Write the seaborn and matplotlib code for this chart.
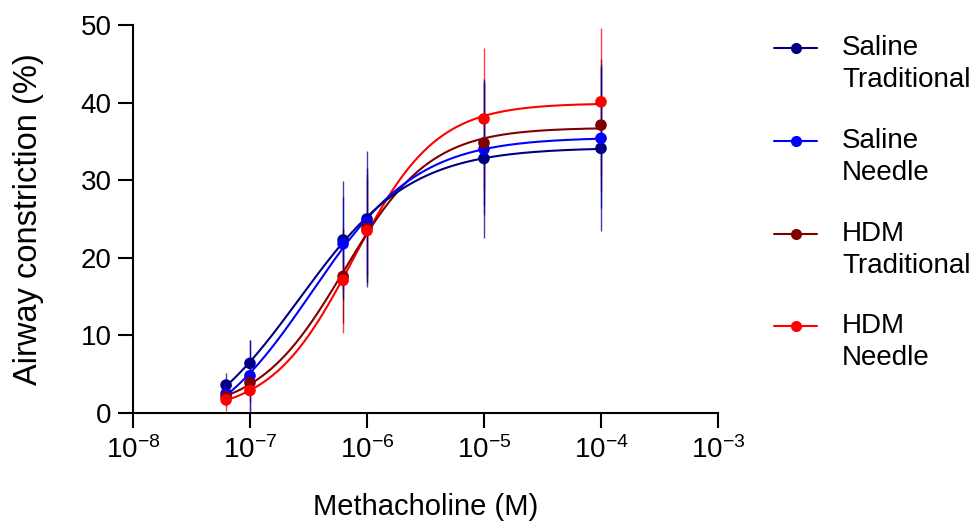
import numpy as np
import pandas as pd
import seaborn as sns
import matplotlib.pyplot as plt
from matplotlib.lines import Line2D

# data
dose = [6.25e-8, 1e-7, 6.25e-7, 1e-6, 1e-5, 1e-4]
groups = ["Saline\nTraditional", "Saline\nNeedle", "HDM\nTraditional", "HDM\nNeedle"]
colors = ["#000080", "#0000ff", "#800000", "#ff0000"]

saline_trad = [3.6, 6.4, 22.3, 25.0, 32.8, 34.1]
saline_trad_err = [1.6, 3.0, 7.6, 8.7, 10.3, 10.7]
saline_needle = [2.5, 4.8, 21.8, 24.6, 34.0, 35.4]
saline_needle_err = [1.5, 4.6, 6.0, 7.0, 8.5, 9.0]
hdm_trad = [2.1, 3.9, 17.6, 23.8, 34.8, 37.1]
hdm_trad_err = [1.2, 2.5, 6.0, 7.0, 8.0, 8.5]
hdm_needle = [1.7, 2.9, 17.1, 23.5, 37.9, 40.1]
hdm_needle_err = [1.5, 2.8, 6.8, 6.5, 9.2, 9.5]

means = [saline_trad, saline_needle, hdm_trad, hdm_needle]
errs = [saline_trad_err, saline_needle_err, hdm_trad_err, hdm_needle_err]


def fit_hill(x, y):
    # 4PL fit: grid over logEC50 / hill, bottom & top by linear least squares
    lx = np.log10(x)
    y = np.asarray(y)
    best = None
    for ec in np.arange(-7.5, -5.0, 0.005):
        for h in np.arange(0.5, 3.0, 0.01):
            f = 1.0 / (1.0 + 10 ** (h * (ec - lx)))
            A = np.column_stack([1 - f, f])
            coef, *_ = np.linalg.lstsq(A, y, rcond=None)
            sse = np.sum((A @ coef - y) ** 2)
            if best is None or sse < best[0]:
                best = (sse, coef[0], coef[1], ec, h)
    return best[1:]


rows = []
curves = []
xs = np.logspace(np.log10(dose[0]), np.log10(dose[-1]), 300)
for g, m, e in zip(groups, means, errs):
    for d, v, s in zip(dose, m, e):
        rows.append({"dose": d, "value": v, "err": s, "group": g})
    bottom, top, ec, h = fit_hill(dose, m)
    fy = bottom + (top - bottom) / (1.0 + 10 ** (h * (ec - np.log10(xs))))
    curves.append(pd.DataFrame({"dose": xs, "value": fy, "group": g}))

df = pd.DataFrame(rows)
fit = pd.concat(curves)

sns.set_style("ticks", rc={"text.color": "black", "axes.labelcolor": "black",
                           "xtick.color": "black", "ytick.color": "black",
                           "axes.edgecolor": "black"})
plt.rcParams["font.family"] = ["Liberation Sans", "DejaVu Sans"]
plt.rcParams["mathtext.fontset"] = "custom"
plt.rcParams["mathtext.rm"] = "Liberation Sans"
plt.rcParams["mathtext.it"] = "Liberation Sans:italic"
plt.rcParams["mathtext.bf"] = "Liberation Sans:bold"
plt.rcParams["mathtext.default"] = "regular"

fig = plt.figure(figsize=(9.77, 5.24), dpi=100)
ax = fig.add_axes([0.1361, 0.2118, 0.5988, 0.7405])

pal = dict(zip(groups, colors))
order = groups[::-1]

for g in order:
    sub = df[df.group == g]
    ax.errorbar(sub.dose, sub.value, yerr=sub.err, fmt="none",
                ecolor=pal[g], elinewidth=1.0, alpha=0.75, zorder=2)

sns.lineplot(data=fit, x="dose", y="value", hue="group", hue_order=order,
             palette=pal, linewidth=1.5, legend=False, ax=ax, zorder=3)
sns.scatterplot(data=df, x="dose", y="value", hue="group", hue_order=order,
                palette=pal, s=70, edgecolor="none", legend=False, ax=ax, zorder=4)

ax.set_xscale("log")
ax.set_xlim(1e-8, 1e-3)
ax.set_ylim(0, 50)
ax.set_xticks([1e-8, 1e-7, 1e-6, 1e-5, 1e-4, 1e-3])
ax.set_xticklabels(["$10^{-%d}$" % k for k in range(8, 2, -1)])
ax.minorticks_off()
ax.set_yticks([0, 10, 20, 30, 40, 50])
ax.tick_params(labelsize=20, length=10.5, width=1.5)
ax.tick_params(axis="x", pad=6)
ax.tick_params(axis="y", pad=5)
for sp in ["left", "bottom"]:
    ax.spines[sp].set_linewidth(1.5)
sns.despine(ax=ax)
ax.set_xlabel("Methacholine (M)", fontsize=21, labelpad=21)
ax.set_ylabel("Airway constriction (%)", fontsize=23.5, labelpad=26)

# legend drawn by hand: marker aligned with the first line of each label
W, H = 977.0, 524.0
for i, (g, c) in enumerate(zip(groups, colors)):
    yp = 48.3 + 92.7 * i
    fy = 1 - yp / H
    fig.add_artist(Line2D([774 / W, 817 / W], [fy, fy], color=c, linewidth=1.5,
                          transform=fig.transFigure))
    fig.add_artist(Line2D([796 / W], [fy], color=c, marker="o", markersize=8,
                          markeredgewidth=0, transform=fig.transFigure))
    first, second = g.split("\n")
    fig.text(842 / W, fy, first, fontsize=20, va="center", ha="left")
    fig.text(842 / W, 1 - (yp + 32) / H, second, fontsize=20, va="center", ha="left")

fig.savefig("out.png", dpi=100)
